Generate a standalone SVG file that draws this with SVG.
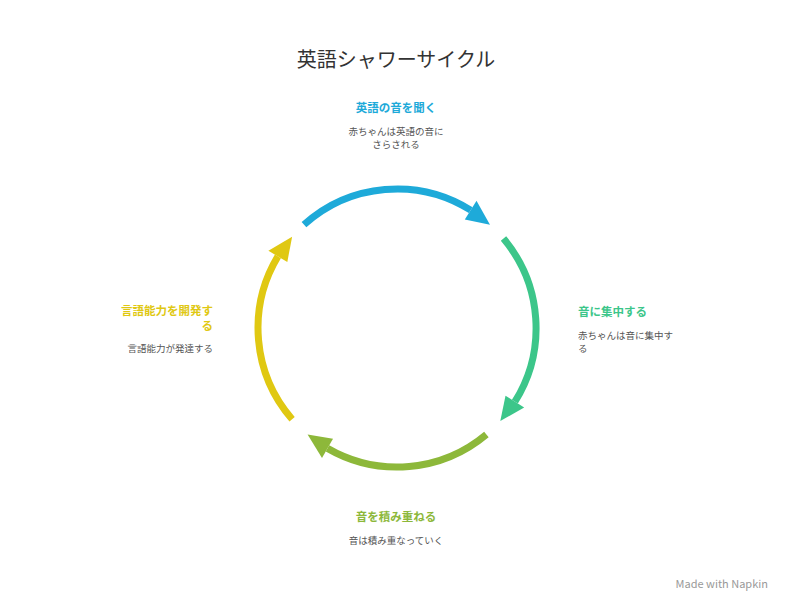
<svg xmlns="http://www.w3.org/2000/svg" width="792" height="612" viewBox="0 0 792 612">
<style>
text{font-family:"Noto Sans CJK JP","Noto Sans",sans-serif}
.t{font-size:11.5px;font-weight:bold}
.d{font-size:9.5px;fill:#555}
.arc{fill:none;stroke-width:7}
</style>
<rect width="792" height="612" fill="#fff"/>
<text x="396" y="67" text-anchor="middle" font-size="20" fill="#333">英語シャワーサイクル</text>
<g id="connectors">
<path class="arc" stroke="#1EAAD9" d="M304,224.7 A139,139 0 0 1 470.7,210.1"/>
<polygon fill="#1EAAD9" points="476.5,200.8 464.8,219.5 490,224.7"/>
<path class="arc" stroke="#3CC68A" d="M503.5,238.6 A139,139 0 0 1 514.9,401.7"/>
<polygon fill="#3CC68A" points="524.2,407.5 505.5,395.8 500.3,421"/>
<path class="arc" stroke="#8DB83A" d="M486.4,434.5 A139,139 0 0 1 327.5,448.4"/>
<polygon fill="#8DB83A" points="322,457.9 333,438.8 307.6,434.5"/>
<path class="arc" stroke="#E0C812" d="M292.1,419.2 A139,139 0 0 1 277.9,256.4"/>
<polygon fill="#E0C812" points="268.4,250.7 287.3,262.1 292.1,236.8"/>
</g>
<g id="n1"><text class="t" x="396" y="112" text-anchor="middle" fill="#1EAAD9">英語の音を聞く</text>
<text class="d" x="396" y="135" text-anchor="middle">赤ちゃんは英語の音に</text>
<text class="d" x="396" y="148" text-anchor="middle">さらされる</text></g>
<g id="n2"><text class="t" x="578" y="316" fill="#3CC68A">音に集中する</text>
<text class="d" x="578" y="339">赤ちゃんは音に集中す</text>
<text class="d" x="578" y="352">る</text></g>
<g id="n3"><text class="t" x="396" y="521" text-anchor="middle" fill="#8DB83A">音を積み重ねる</text>
<text class="d" x="396" y="544" text-anchor="middle">音は積み重なっていく</text></g>
<g id="n4"><text class="t" x="213" y="315" text-anchor="end" fill="#E0C812">言語能力を開発す</text>
<text class="t" x="213" y="330" text-anchor="end" fill="#E0C812">る</text>
<text class="d" x="213" y="352" text-anchor="end">言語能力が発達する</text></g>
<text x="768" y="588" text-anchor="end" font-size="11" fill="#999">Made with Napkin</text>
</svg>
